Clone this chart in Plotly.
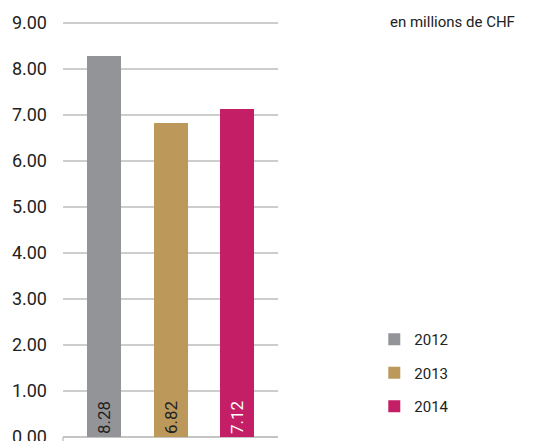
import plotly.graph_objects as go

years = ["2012", "2013", "2014"]
values = [8.28, 6.82, 7.12]
labels = ["8.28", "6.82", "7.12"]
colors = ["#939498", "#BC985A", "#C31E66"]
label_colors = ["#222222", "#222222", "#FFFFFF"]
yticks = [0, 1, 2, 3, 4, 5, 6, 7, 8, 9]

fig = go.Figure()
for i, (yr, v, lab, c, lc) in enumerate(zip(years, values, labels, colors, label_colors)):
    fig.add_trace(go.Bar(
        x=[i], y=[v], name=yr, text=[lab], marker_color=c,
        marker_line_width=0, width=0.51,
        textposition="inside", insidetextanchor="start", textangle=-90,
        textfont=dict(family="Roboto", size=17, color=lc),
        legendgroup=yr, hoverinfo="skip",
    ))

fig.update_layout(
    width=546, height=441,
    margin=dict(l=63, r=268, t=20, b=0, autoexpand=False),
    plot_bgcolor="white", paper_bgcolor="white",
    showlegend=True,
    legend=dict(
        xref="container", yref="container", x=0.6855, y=0.2675,
        xanchor="left", yanchor="top",
        font=dict(family="Roboto", size=15, color="#222222"),
        tracegroupgap=11, traceorder="grouped", itemwidth=30,
    ),
    xaxis=dict(range=[-0.615, 2.61], showticklabels=False, showgrid=False,
               zeroline=False, showline=False, ticks="", automargin=False),
    yaxis=dict(range=[-0.087, 9.065], tickvals=yticks, tickformat=".2f",
               showgrid=True, gridcolor="#CDCDCD", gridwidth=1.5,
               zeroline=True, zerolinecolor="#C4C4C4", zerolinewidth=1.5,
               tickfont=dict(family="Roboto", size=18, color="#222222"),
               ticklabelstandoff=15, showline=False, ticklabeloverflow="allow",
               automargin=False),
    bargap=0,
    shapes=[dict(type="line", xref="paper", x0=0, x1=0, yref="y", y0=0, y1=-0.087,
                 line=dict(color="#C4C4C4", width=1.5))],
    annotations=[dict(
        text="en millions de CHF", xref="paper", yref="paper",
        x=(388 - 63) / 215, y=(441 - 22 - 0) / 421, xanchor="left", yanchor="middle",
        showarrow=False, font=dict(family="Roboto", size=15, color="#222222"),
    )],
)

fig.write_html("out.html")
